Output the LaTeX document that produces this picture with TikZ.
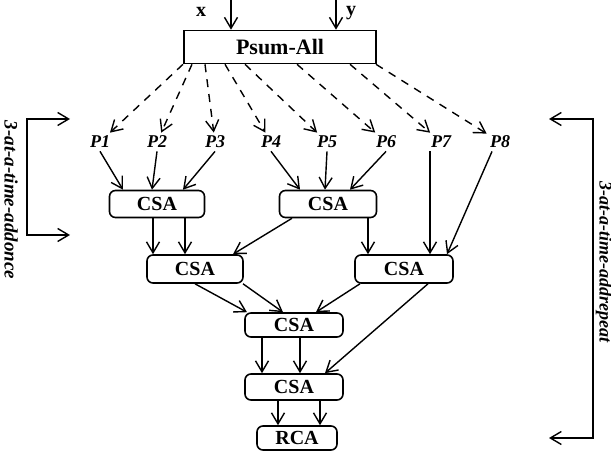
\documentclass[tikz,border=0pt]{standalone}
\usepackage{fontspec}
\setmainfont{Liberation Serif}
\usetikzlibrary{calc,arrows.meta}
\tikzset{
	unit/.style={draw, rounded corners=3pt, line width=0.8pt, inner sep=0pt, font=\bfseries\fontsize{10}{12}\selectfont},
	pin/.style={inner sep=1.5pt, font=\bfseries\itshape\fontsize{9}{11}\selectfont},
	wire/.style={line width=0.7pt, -{Straight Barb[length=5.5pt,width=6.5pt]}},
	spray/.style={wire, dash pattern=on 4pt off 3.5pt},
	side/.style={rotate=-90, font=\bfseries\itshape\fontsize{9.5}{11}\selectfont}
}

\begin{document}
\begin{tikzpicture}[x=0.5pt,y=-0.5pt]
				\useasboundingbox (0,0) rectangle (611,454);
				
				% top block and its inputs
				\node[unit, rounded corners=0pt, minimum width=96pt, minimum height=16.5pt, font=\bfseries\fontsize{11}{13}\selectfont] (psum) at (280,47) {Psum-All};
				\node[inner sep=0.5pt, font=\bfseries\fontsize{10}{12}\selectfont] (xl) at (201,12) {x};
				\node[inner sep=0.5pt, font=\bfseries\fontsize{10}{12}\selectfont] (yl) at (351,13) {y};
				\coordinate (xin) at (231,0);
				\coordinate (yin) at (336,0);
				\draw[wire] (xin) -- (xin |- psum.north);
				\draw[wire] (yin) -- (yin |- psum.north);
				
				% partial products
				\node[pin] (p1) at (100,142) {P1};
				\node[pin] (p2) at (157,142) {P2};
				\node[pin] (p3) at (215,142) {P3};
				\node[pin] (p4) at (271,142) {P4};
				\node[pin] (p5) at (327,142) {P5};
				\node[pin] (p6) at (386,142) {P6};
				\node[pin] (p7) at (441,142) {P7};
				\node[pin] (p8) at (500,142) {P8};
				
				\draw[spray] ($(psum.south)+(-97,0)$) -- (p1);
				\draw[spray] ($(psum.south)+(-88,0)$) -- (p2);
				\draw[spray] ($(psum.south)+(-75,0)$) -- (p3);
				\draw[spray] ($(psum.south)+(-55,0)$) -- (p4);
				\draw[spray] ($(psum.south)+(-35,0)$) -- (p5);
				\draw[spray] ($(psum.south)+(17,0)$) -- (p6);
				\draw[spray] ($(psum.south)+(70,0)$) -- (p7);
				\draw[spray] ($(psum.south)+(96,0)$) -- (p8);
				
				% adder tree
				\node[unit, minimum width=47.5pt, minimum height=13.5pt] (csa1) at (157,204) {CSA};
				\node[unit, minimum width=48.5pt, minimum height=13.5pt] (csa2) at (328,204) {CSA};
				\node[unit, minimum width=48pt, minimum height=14pt] (csa3) at (195,269) {CSA};
				\node[unit, minimum width=49pt, minimum height=14pt] (csa4) at (404,269) {CSA};
				\node[unit, minimum width=49pt, minimum height=12pt] (csa5) at (294,325) {CSA};
				\node[unit, minimum width=49pt, minimum height=13pt] (csa6) at (294,387) {CSA};
				\node[unit, minimum width=40pt, minimum height=12pt] (rca) at (297,438) {RCA};
				
				\draw[wire] (p1.south) -- ($(csa1.north)+(-34,0)$);
				\draw[wire] (p2.south) -- ($(csa1.north)+(-5,0)$);
				\draw[wire] (p3.south) -- ($(csa1.north)+(26,0)$);
				\draw[wire] (p4.south) -- ($(csa2.north)+(-28,0)$);
				\draw[wire] (p5.south) -- ($(csa2.north)+(-3,0)$);
				\draw[wire] (p6.south) -- ($(csa2.north)+(22,0)$);
				\draw[wire] ($(p7.south)+(-11,0)$) -- ($(csa4.north)+(26,0)$);
				\draw[wire] ($(p8.south)+(-8,0)$) -- ($(csa4.north)+(43,0)$);
				
				\draw[wire] ($(csa1.south)+(-4,0)$) -- ($(csa3.north)+(-42,0)$);
				\draw[wire] ($(csa1.south)+(28,0)$) -- ($(csa3.north)+(-10,0)$);
				\draw[wire] ($(csa2.south)+(-36,0)$) -- ($(csa3.north)+(38,0)$);
				\draw[wire] ($(csa2.south)+(40,0)$) -- ($(csa4.north)+(-36,0)$);
				
				\draw[wire] ($(csa3.south)+(0,0)$) -- ($(csa5.north)+(-47,0)$);
				\draw[wire] ($(csa3.south)+(48,0)$) -- ($(csa5.north)+(-11,0)$);
				\draw[wire] ($(csa4.south)+(-44,0)$) -- ($(csa5.north)+(22,0)$);
				\draw[wire] ($(csa4.south)+(24,0)$) -- ($(csa6.north)+(31,0)$);
				
				\draw[wire] ($(csa5.south)+(-32,0)$) -- ($(csa6.north)+(-32,0)$);
				\draw[wire] ($(csa5.south)+(6,0)$) -- ($(csa6.north)+(6,0)$);
				\draw[wire] ($(csa6.south)+(-16,0)$) -- ($(rca.north)+(-19,0)$);
				\draw[wire] ($(csa6.south)+(26,0)$) -- ($(rca.north)+(23,0)$);
				
				% loop brackets
				\coordinate (la) at (70,119);
				\coordinate (lb) at (27,119);
				\coordinate (lc) at (27,235);
				\coordinate (ld) at (70,235);
				\draw[line width=0.7pt, {Straight Barb[length=5.5pt,width=6.5pt]}-{Straight Barb[length=5.5pt,width=6.5pt]}] (la) -- (lb) -- (lc) -- (ld);
				\node[side] (lname) at (11,200) {3-at-a-time-addonce};
				
				\coordinate (ra) at (549,119);
				\coordinate (rb) at (593,119);
				\coordinate (rc) at (593,438);
				\coordinate (rd) at (549,438);
				\draw[line width=0.7pt, {Straight Barb[length=5.5pt,width=6.5pt]}-{Straight Barb[length=5.5pt,width=6.5pt]}] (ra) -- (rb) -- (rc) -- (rd);
				\node[side, font=\bfseries\itshape\fontsize{9}{11}\selectfont] (rname) at (604,262) {3-at-a-time-addrepeat};
			\end{tikzpicture}
\end{document}
